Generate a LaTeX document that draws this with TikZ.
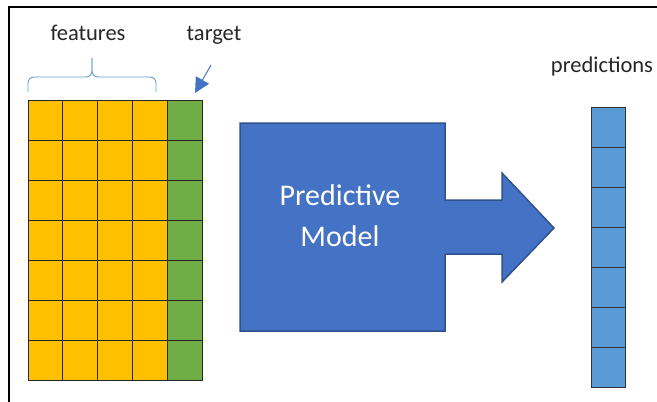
\documentclass[tikz,border=0pt]{standalone}
\usepackage{fontspec}
\setmainfont{Carlito}
\usetikzlibrary{arrows.meta}

\definecolor{featyellow}{HTML}{FFC000}
\definecolor{targgreen}{HTML}{70AD47}
\definecolor{modelblue}{HTML}{4472C4}
\definecolor{modeledge}{HTML}{2F528F}
\definecolor{predblue}{HTML}{5B9BD5}
\definecolor{bracecol}{HTML}{6A9BD8}

\tikzset{
  cell/.style={draw=black!85, line width=0.8pt, minimum width=34.8pt,
    minimum height=40.1pt, inner sep=0pt, outer sep=0pt},
  predcell/.style={cell, fill=predblue, draw=black!80, minimum width=34pt,
    minimum height=40pt},
  lbl/.style={text=black!85, inner sep=0pt, font=\fontsize{22.5}{27}\selectfont},
  bigtxt/.style={text=white, inner sep=0pt, font=\fontsize{30}{36}\selectfont}
}

\begin{document}
\begin{tikzpicture}[x=1pt, y=-1pt]
        \useasboundingbox (0,0) rectangle (657,402);
        \draw[line width=2pt] (9,402) -- (9,7) -- (657,7);

        % data table
        \foreach \j in {1,...,7} {
          \foreach \i in {1,...,4}
            \node[cell, fill=featyellow] (f-\i-\j) at ({28+34.8*(\i-0.5)}, {100+40.1*(\j-0.5)}) {};
          \node[cell, fill=targgreen] (t-\j) at ({28+34.8*4.5}, {100+40.1*(\j-0.5)}) {};
        }

        \node[lbl, anchor=base] (feat) at (88,40) {features};
        \node[lbl, anchor=base] (targ) at (214,40) {target};
        \node[lbl, anchor=base] (preds) at (602,72) {predictions};

        \draw[bracecol, line width=0.9pt, rounded corners=6pt] (28,92) -- (28,77) -- (92,77) -- (92,58);
        \draw[bracecol, line width=0.9pt, rounded corners=6pt] (92,58) -- (92,77) -- (156,77) -- (156,92);

        \coordinate (targtail) at (211,65);
        \coordinate (targtip) at (195,93);
        \draw[modelblue, line width=1pt, -{Triangle[length=15pt, width=15pt]}] (targtail) -- (targtip);

        % model block
        \draw[fill=modelblue, draw=modeledge, line width=1.5pt]
          (240,123) -- (445,123) -- (445,200) -- (502,200) -- (502,173) -- (554,228)
          -- (502,282) -- (502,254) -- (445,254) -- (445,331) -- (240,331) -- cycle;
        \node[bigtxt, anchor=base] (pred) at (340,205) {Predictive};
        \node[bigtxt, anchor=base] (model) at (340,246) {Model};

        % predictions column
        \foreach \j in {1,...,7}
          \node[predcell] (p-\j) at (608, {107+40*(\j-0.5)}) {};
    \end{tikzpicture}
\end{document}
